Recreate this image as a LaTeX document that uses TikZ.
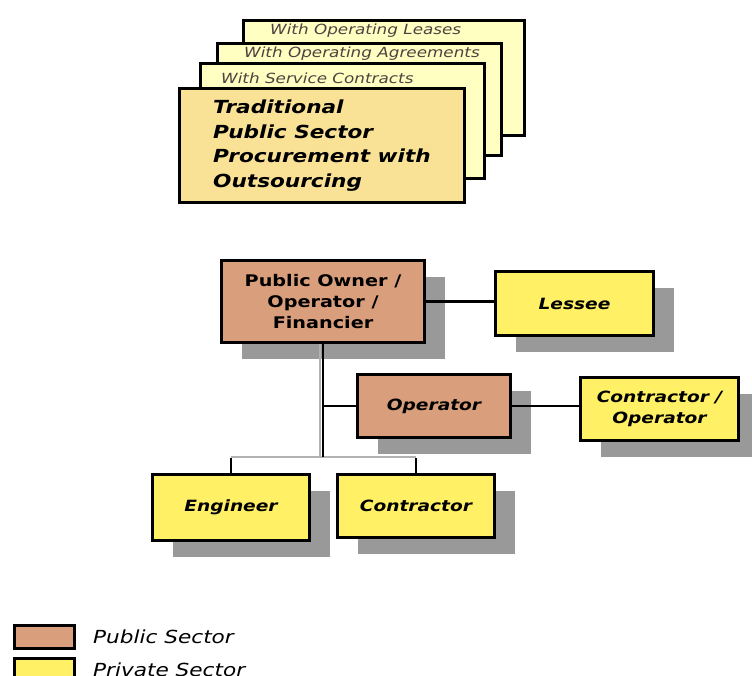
\documentclass[tikz,border=0pt]{standalone}
\usepackage{fontspec}
\setmainfont{DejaVu Sans}
\newfontfamily\widefont[FakeStretch=1.2]{DejaVu Sans}
\usetikzlibrary{shadows}

\definecolor{publicfill}{RGB}{217,158,123}
\definecolor{privatefill}{RGB}{255,240,102}
\definecolor{pagefill}{RGB}{255,255,194}
\definecolor{frontfill}{RGB}{249,226,150}
\definecolor{shadowgray}{RGB}{153,153,153}
\definecolor{busgray}{RGB}{178,178,178}
\definecolor{pagetext}{RGB}{80,64,64}

\begin{document}
\begin{tikzpicture}[x=1pt,y=-1pt,
  page/.style={draw=black,line width=3pt,fill=pagefill,rectangle},
  orgbox/.style={draw=black,line width=3pt,rectangle,align=center,inner sep=2pt,
    font=\widefont\bfseries\itshape\fontsize{15.5}{21}\selectfont,
    drop shadow={shadow xshift=20pt,shadow yshift=-16pt,fill=shadowgray,opacity=1}},
  pagelabel/.style={anchor=west,inner sep=0pt,text=pagetext,
    font=\widefont\itshape\fontsize{14}{16}\selectfont},
  keybox/.style={draw=black,line width=3pt,rectangle,minimum width=60pt,minimum height=23pt},
  keylabel/.style={anchor=west,inner sep=0pt,font=\widefont\itshape\fontsize{18}{20}\selectfont},
  link/.style={line width=2.5pt}
]
\useasboundingbox (0,0) rectangle (752,675);
\clip (0,0) rectangle (752,675);

% stack of procurement variants
\node[page,minimum width=281pt,minimum height=115pt] (leases) at (384,78) {};
\node[pagelabel] at ([shift={(28,12)}]leases.north west) {With Operating Leases};
\node[page,minimum width=284pt,minimum height=112pt] (agreements) at (359.5,99.5) {};
\node[pagelabel] at ([shift={(28,12)}]agreements.north west) {With Operating Agreements};
\node[page,minimum width=284pt,minimum height=115pt] (service) at (342.5,121) {};
\node[pagelabel] at ([shift={(22,16)}]service.north west) {With Service Contracts};
\node[page,fill=frontfill,minimum width=285pt,minimum height=114pt,align=left,
  font=\widefont\bfseries\itshape\fontsize{18}{24.5}\selectfont] (front) at (322,145.5)
  {Traditional\\Public Sector\\Procurement with\\Outsourcing};

% organisation chart
\node[orgbox,fill=publicfill,minimum width=203pt,minimum height=82pt,
  font=\widefont\bfseries\fontsize{16}{21}\selectfont] (owner) at (323,301.5)
  {Public Owner /\\Operator /\\Financier};
\node[orgbox,fill=privatefill,minimum width=158pt,minimum height=64pt] (lessee) at (574.5,303.5) {Lessee};
\node[orgbox,fill=publicfill,minimum width=153pt,minimum height=63pt] (operator) at (434,406) {Operator};
\node[orgbox,fill=privatefill,minimum width=158pt,minimum height=63pt] (contop) at (659.5,409) {Contractor /\\Operator};
\node[orgbox,fill=privatefill,minimum width=157pt,minimum height=66pt] (engineer) at (231,507.5) {Engineer};
\node[orgbox,fill=privatefill,minimum width=157pt,minimum height=63pt] (contractor) at (416,506) {Contractor};

\coordinate (bus) at (323,457);
\draw[link,busgray] ([xshift=-3pt]owner.south) -- ([xshift=-3pt]bus);
\draw[link,busgray] (engineer.north |- bus) -- (contractor.north |- bus);
\draw[link] (owner.south) -- (bus);
\draw[link] (owner.east) -- (owner.east -| lessee.west);
\draw[link] (operator.west) -- (operator.west -| bus);
\draw[link] (operator.east) -- (operator.east -| contop.west);
\draw[link] ([yshift=-1pt]engineer.north |- bus) -- (engineer.north);
\draw[link] ([yshift=-1pt]contractor.north |- bus) -- (contractor.north);

% legend
\node[keybox,fill=publicfill] (pubkey) at (44.5,637) {};
\node[keylabel] at ([xshift=17pt]pubkey.east) {Public Sector};
\node[keybox,fill=privatefill] (privkey) at (44.5,670) {};
\node[keylabel] at ([xshift=17pt]privkey.east) {Private Sector};
\end{tikzpicture}
\end{document}
